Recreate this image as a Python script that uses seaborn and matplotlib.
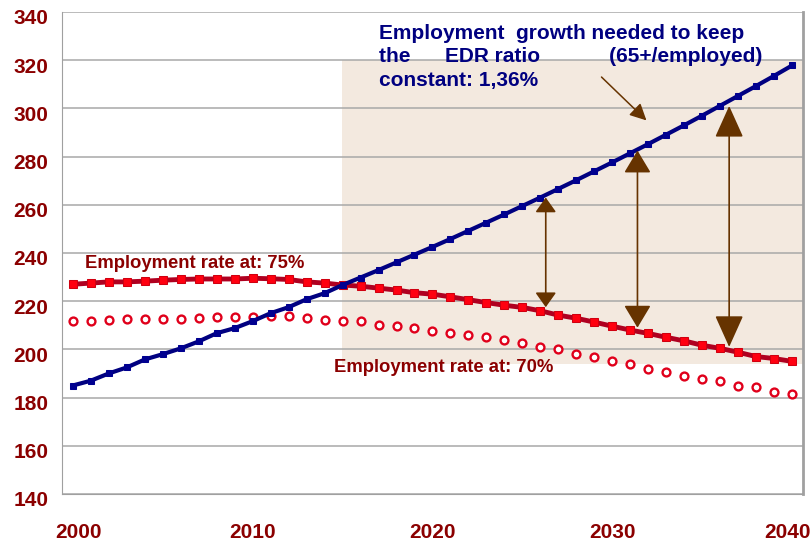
import seaborn as sns
import matplotlib.pyplot as plt
import matplotlib.transforms as mtransforms
from matplotlib.patches import Rectangle
import pandas as pd

years = list(range(2000, 2041))

# employment needed to keep EDR ratio constant (blue)
needed = [185.0, 187.0, 190.0, 192.5, 195.8, 198.0, 200.4, 203.3, 206.7, 208.8,
          211.7, 215.0, 217.5, 220.8, 223.3, 226.7, 229.8, 232.9, 236.1, 239.3,
          242.5, 245.8, 249.2, 252.6, 256.0, 259.5, 263.0, 266.6, 270.2, 273.9,
          277.6, 281.4, 285.2, 289.1, 293.0, 297.0, 301.1, 305.2, 309.3, 313.5,
          317.8]

# employment rate at 75%
rate75 = [227.0, 227.5, 228.0, 228.0, 228.3, 228.7, 229.0, 229.2, 229.2, 229.2,
          229.5, 229.3, 229.0, 228.0, 227.5, 226.7, 226.2, 225.4, 224.6, 223.5,
          222.9, 221.8, 220.6, 219.4, 218.3, 217.4, 216.0, 214.2, 212.9, 211.3,
          209.6, 208.0, 206.6, 205.0, 203.5, 201.7, 200.4, 198.8, 197.0, 196.2,
          195.0]

# employment rate at 70%
rate70 = [211.8, 211.8, 212.0, 212.4, 212.4, 212.5, 212.6, 213.0, 213.3, 213.3,
          213.4, 214.0, 213.7, 213.0, 212.0, 211.7, 211.7, 210.0, 209.6, 208.8,
          207.5, 206.7, 205.8, 205.0, 203.8, 202.5, 200.8, 200.0, 198.0, 196.7,
          195.0, 193.8, 191.7, 190.4, 188.8, 187.5, 187.0, 185.0, 184.2, 182.5,
          181.3]

y_ticks = [140, 160, 180, 200, 220, 240, 260, 280, 300, 320, 340]
x_ticks = [2000, 2010, 2020, 2030, 2040]

df = pd.DataFrame({"year": years, "needed": needed,
                   "rate75": rate75, "rate70": rate70})

sns.set_style("white")
plt.rcParams['font.family'] = ['Liberation Sans', 'DejaVu Sans']

fig = plt.figure(figsize=(8.11, 5.44), dpi=100)
ax = fig.add_axes([0.0765, 0.092, 0.9135, 0.886])

# shaded projection area
ax.add_patch(Rectangle((2014.95, 194), 26, 126, facecolor='#F3E9DF',
                       edgecolor='none', zorder=0))

for y in y_ticks:
    ax.axhline(y, color='#A8A8A8', lw=1.1, zorder=1)

sns.scatterplot(data=df, x="year", y="rate70", ax=ax, marker='o', s=32,
                facecolor='white', edgecolor='#E0001B', linewidth=1.7,
                zorder=3, legend=False)
sns.lineplot(data=df, x="year", y="rate75", ax=ax, color='#B00020', lw=3.5,
             marker='s', markersize=6, markerfacecolor='#FF0010',
             markeredgecolor='#D00010', zorder=4)
sns.lineplot(data=df, x="year", y="needed", ax=ax, color='#000080', lw=3,
             marker='s', markersize=5, markerfacecolor='#000090',
             markeredgecolor='#000090', zorder=5)

ax.set_xlim(1999.4, 2040.6)
ax.set_ylim(140, 340)
ax.set_xticks(x_ticks)
ax.set_yticks(y_ticks)
ax.set_xlabel("")
ax.set_ylabel("")
ax.tick_params(axis='both', length=0, labelcolor='#8B0000', labelsize=15)
ax.tick_params(axis='x', pad=21)
ax.tick_params(axis='y', pad=10)
for lab in ax.get_xticklabels() + ax.get_yticklabels():
    lab.set_fontweight('bold')
shift = mtransforms.ScaledTranslation(0, -5 / 100, fig.dpi_scale_trans)
for lab in ax.get_yticklabels():
    lab.set_transform(lab.get_transform() + shift)
# end labels sit a little inwards in the original
xlabs = ax.get_xticklabels()
xlabs[0].set_transform(xlabs[0].get_transform()
                       + mtransforms.ScaledTranslation(6 / 100, 0, fig.dpi_scale_trans))
xlabs[-1].set_transform(xlabs[-1].get_transform()
                        + mtransforms.ScaledTranslation(-5 / 100, 0, fig.dpi_scale_trans))

for side in ['left', 'bottom', 'right']:
    ax.spines[side].set_color('#A0A0A0')
ax.spines['right'].set_linewidth(2)
ax.spines['top'].set_visible(False)

# double arrows between the scenarios
brown = '#663300'
arrows = [(2026.3, 263, 217.5, 0.45, 0.32),
          (2031.4, 282.5, 209, 0.7, 0.42),
          (2036.5, 301, 201, 1.0, 0.45)]
for x, top, bottom, hl, hw in arrows:
    ax.annotate("", xy=(x, top), xytext=(x, bottom),
                arrowprops=dict(arrowstyle=f"<|-|>,head_length={hl},head_width={hw}",
                                mutation_scale=20, color=brown, lw=1.2,
                                shrinkA=0, shrinkB=0), zorder=6)
ax.annotate("", xy=(2031.9, 295), xytext=(2029.4, 313),
            arrowprops=dict(arrowstyle="-|>,head_length=0.5,head_width=0.25",
                            mutation_scale=20, color=brown, lw=1.1,
                            shrinkA=0, shrinkB=0), zorder=6)

ax.text(2017.0, 321.5, "Employment  growth needed to keep\n"
        "the      EDR ratio            (65+/employed)\nconstant: 1,36%",
        color='#000080', fontsize=15, fontweight='bold', va='center',
        ha='left', linespacing=1.3, zorder=7)
ax.text(2000.7, 235.8, "Employment rate at: 75%", color='#8B0000',
        fontsize=13.3, fontweight='bold', va='center', ha='left', zorder=7)
ax.text(2014.5, 192.5, "Employment rate at: 70%", color='#8B0000',
        fontsize=13.3, fontweight='bold', va='center', ha='left', zorder=7)

fig.savefig("out.png", dpi=100)
